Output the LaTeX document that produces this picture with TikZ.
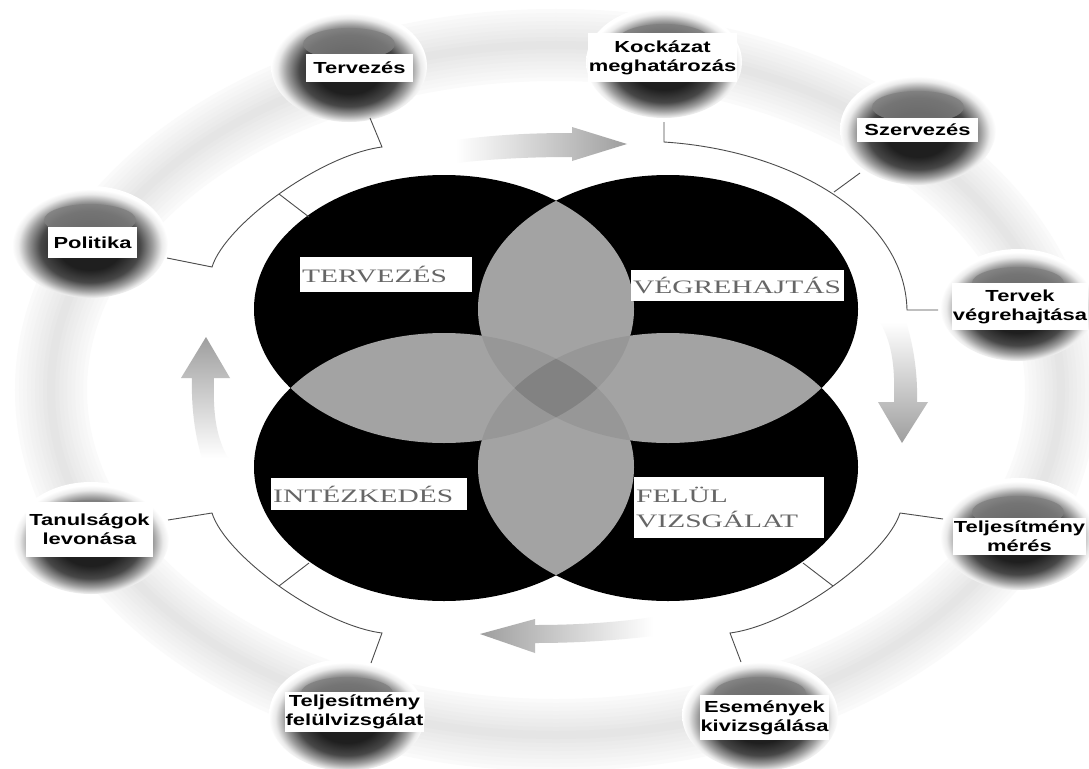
\documentclass[tikz,border=0pt]{standalone}
\usepackage{fontspec}
\usepackage{tikz}
\usetikzlibrary{shapes.geometric}
\newfontfamily\ballfont[FakeStretch=1.37]{Liberation Sans}
\newfontfamily\vennfont[FakeStretch=1.55]{Liberation Serif}
\pgfdeclareradialshading{ballshade}{\pgfpoint{0bp}{-3bp}}{color(0bp)=(black!88); color(10bp)=(black!88); color(16bp)=(black!72); color(20bp)=(black!38); color(23bp)=(black!8); color(25bp)=(white); color(50bp)=(white)}
\tikzstyle{ringball} = [ellipse, 
minimum width=156pt, 
minimum height=112pt, 
shade, shading=ballshade, 
draw=none]
\tikzstyle{ballbox} = [rectangle, 
fill=white, 
inner sep=1pt, 
align=center, 
font=\ballfont\bfseries\fontsize{16}{19}\selectfont]
\tikzstyle{vennbox} = [rectangle, 
fill=white, 
anchor=north west, 
inner sep=2pt, 
align=left, 
text=black!60, 
font=\vennfont\fontsize{19}{25}\selectfont]
\tikzstyle{bracketline} = [draw=black!70, line width=0.9pt]
\tikzstyle{lens} = [fill=black!31]

\begin{document}
\begin{tikzpicture}[x=1pt, y=-1pt]
\useasboundingbox (0,0) rectangle (1089,768);
\fill[white] (0,0) rectangle (1089,768);

% outer ring, soft band
\coordinate (ctr) at (556,390);
\foreach \w/\c in {72/2, 64/3, 56/4, 48/5, 40/6, 32/7, 24/8, 16/9, 8/10}
  \draw[black!\c, line width=\w pt] (ctr) ellipse [x radius=505, y radius=345];

% four circles
\coordinate (tl) at (444,309);
\coordinate (tr) at (668,309);
\coordinate (bl) at (444,467);
\coordinate (br) at (668,467);
\foreach \c in {tl,tr,bl,br}
  \fill[black] (\c) ellipse [x radius=190, y radius=134];
\foreach \a/\b in {tl/tr,tr/br,br/bl,bl/tl}
{
  \begin{scope}
    \clip (\a) ellipse [x radius=190, y radius=134];
    \fill[lens] (\b) ellipse [x radius=190, y radius=134];
  \end{scope}
}
\foreach \a/\b in {tl/tr,tr/br,br/bl,bl/tl}
{
  \begin{scope}
    \clip (\a) ellipse [x radius=190, y radius=134];
    \fill[black, opacity=0.07] (\b) ellipse [x radius=190, y radius=134];
  \end{scope}
}

\node (lplan) [vennbox, text width=168pt, minimum height=35pt] at (300,257) {TERVEZÉS};
\node (ldo) [vennbox, text width=209pt, minimum height=31pt] at (631,270) {VÉGREHAJTÁS};
\node (lact) [vennbox, text width=192pt, minimum height=32pt] at (271,478) {INTÉZKEDÉS};
\node (lcheck) [vennbox, text width=186pt, minimum height=61pt] at (634,477) {FELÜL\\VIZSGÁLAT};

% cycle arrows
\shade[left color=white, right color=black!38] (456,140) .. controls (500,134) and (540,133) .. (572,133) -- (572,127) -- (627,144) -- (572,161) -- (572,157) .. controls (540,157) and (500,158) .. (456,163) -- cycle;
\shade[top color=white, bottom color=black!38] (880,322) .. controls (893,345) and (895,370) .. (894,402) -- (878,402) -- (902,443) -- (928,402) -- (917,402) .. controls (918,370) and (912,340) .. (906,322) -- cycle;
\shade[left color=black!38, right color=white] (653,617) .. controls (620,622) and (580,625) .. (535,625) -- (535,619) -- (480,634) -- (535,653) -- (535,643) .. controls (580,643) and (620,640) .. (653,636) -- cycle;
\shade[top color=black!38, bottom color=white] (228,458) .. controls (215,435) and (213,410) .. (214,378) -- (230,378) -- (206,337) -- (181,378) -- (192,378) .. controls (191,410) and (196,440) .. (202,458) -- cycle;

% balls
\foreach \n/\x/\y in {1/349/66, 2/664/62, 3/918/129, 4/1018/305, 5/1018/534, 6/760/715, 7/347/715, 8/91/538, 9/90/242}
{
  \node (ball\n) [ringball] at (\x,\y) {};
  \fill[black!50, opacity=0.8] (\x,\y-22) ellipse [x radius=46, y radius=16];
}

\node (tervezes) [ballbox, minimum width=107pt, minimum height=28pt] at (359.5,68) {Tervezés};
\node (kockazat) [ballbox, minimum width=147pt, minimum height=49pt] at (662.5,57.5) {Kockázat\\meghatározás};
\node (szervezes) [ballbox, minimum width=121pt, minimum height=24pt] at (917.5,130) {Szervezés};
\node (tervek) [ballbox, minimum width=132pt, minimum height=47pt] at (1020,306.5) {Tervek\\végrehajtása};
\node (meres) [ballbox, minimum width=133pt, minimum height=37pt] at (1019.5,536.5) {Teljesítmény\\mérés};
\node (esemenyek) [ballbox, minimum width=125pt, minimum height=45pt] at (764.5,717.5) {Események\\kivizsgálása};
\node (felulv) [ballbox, minimum width=133pt, minimum height=40pt] at (354.5,712) {Teljesítmény\\felülvizsgálat};
\node (tanulsagok) [ballbox, minimum width=127pt, minimum height=55pt] at (89.5,529.5) {Tanulságok\\levonása};
\node (politika) [ballbox, minimum width=89pt, minimum height=31pt] at (92.5,242.5) {Politika};

% brackets
\coordinate (aT) at (370,118);
\coordinate (a1) at (382,147);
\coordinate (a2) at (212,267);
\coordinate (aP) at (167,258);
\coordinate (aM) at (279,194);
\coordinate (aX) at (309,217);
\coordinate (bK) at (664,122);
\coordinate (b1) at (664,142);
\coordinate (b2) at (907,310);
\coordinate (bT) at (938,310);
\coordinate (bM) at (834,192);
\coordinate (bX) at (860,173);
\coordinate (cE) at (741,662);
\coordinate (c1) at (730,633);
\coordinate (c2) at (900,513);
\coordinate (cR) at (943,519);
\coordinate (cM) at (833,586);
\coordinate (cX) at (803,563);
\coordinate (dF) at (371,663);
\coordinate (d1) at (382,633);
\coordinate (d2) at (212,513);
\coordinate (dL) at (168,520);
\coordinate (dM) at (279,586);
\coordinate (dX) at (309,563);

\draw[bracketline] (aT) -- (a1) .. controls (320,155) and (225,225) .. (a2) -- (aP);
\draw[bracketline] (aM) -- (aX);
\draw[bracketline] (bK) -- (b1) .. controls (790,150) and (905,215) .. (b2) -- (bT);
\draw[bracketline] (bM) -- (bX);
\draw[bracketline] (cE) -- (c1) .. controls (792,625) and (887,555) .. (c2) -- (cR);
\draw[bracketline] (cM) -- (cX);
\draw[bracketline] (dF) -- (d1) .. controls (320,625) and (225,555) .. (d2) -- (dL);
\draw[bracketline] (dM) -- (dX);

\end{tikzpicture}
\end{document}
